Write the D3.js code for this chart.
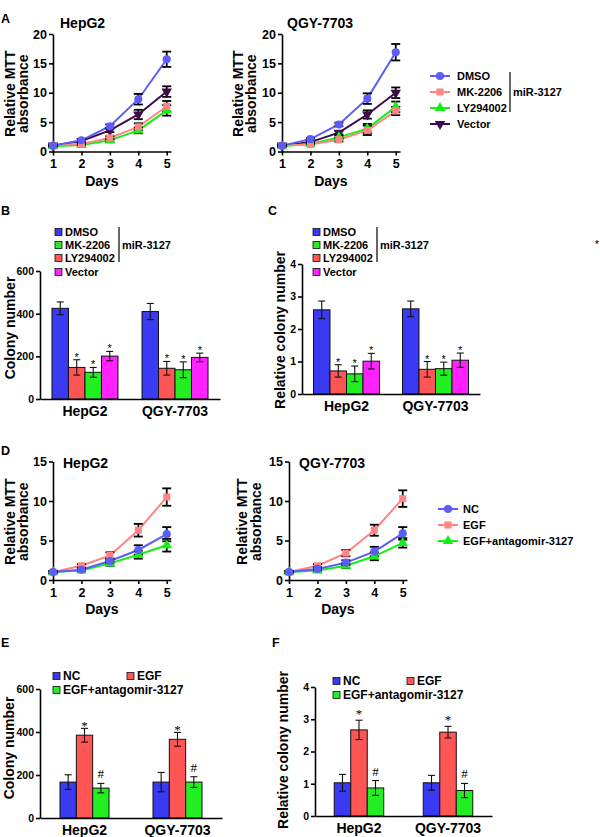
<!DOCTYPE html>
<html>
<head>
<meta charset="utf-8">
<script src="https://cdn.jsdelivr.net/npm/d3@7"></script>
<style>
body { margin: 0; background: #fff; }
</style>
</head>
<body>
<svg id="fig" width="600" height="837"></svg>
<script>
// ---- data ----
var days = [1, 2, 3, 4, 5];
var cellLines = ["HepG2", "QGY-7703"];

var seriesA = ["DMSO", "MK-2206", "LY294002", "Vector"];
var mttA_HepG2 = [
    [1.0, 1.9, 4.3, 8.9, 15.7],
    [1.0, 1.3, 2.3, 4.2, 7.7],
    [0.9, 1.1, 1.9, 3.6, 7.0],
    [1.0, 1.8, 3.6, 6.3, 10.2]
];
var mttA_HepG2Err = [
    [0.15, 0.2, 0.3, 0.9, 1.3],
    [0.15, 0.2, 0.3, 0.6, 0.9],
    [0.15, 0.2, 0.3, 0.5, 0.9],
    [0.15, 0.2, 0.3, 0.8, 0.9]
];
var mttA_QGY = [
    [1.0, 2.1, 4.6, 9.0, 16.9],
    [1.0, 1.2, 2.0, 3.6, 6.9],
    [0.9, 1.3, 2.4, 3.9, 7.6],
    [1.0, 1.6, 3.2, 6.3, 10.0]
];
var mttA_QGYErr = [
    [0.15, 0.2, 0.3, 0.9, 1.4],
    [0.15, 0.2, 0.3, 0.8, 0.7],
    [0.15, 0.2, 0.3, 0.8, 0.9],
    [0.15, 0.2, 0.3, 0.7, 0.9]
];

var seriesD = ["NC", "EGF", "EGF+antagomir-3127"];
var mttD_HepG2 = [
    [1.0, 1.3, 2.4, 3.8, 5.8],
    [1.0, 1.8, 3.1, 6.3, 10.5],
    [1.0, 1.2, 2.1, 3.2, 4.4]
];
var mttD_HepG2Err = [
    [0.15, 0.2, 0.3, 0.6, 0.9],
    [0.15, 0.2, 0.4, 0.8, 1.1],
    [0.15, 0.2, 0.3, 0.5, 0.8]
];
var mttD_QGY = [
    [1.0, 1.4, 2.2, 3.6, 5.9],
    [1.0, 1.8, 3.4, 6.3, 10.3],
    [1.0, 1.2, 1.8, 3.0, 4.7]
];
var mttD_QGYErr = [
    [0.15, 0.2, 0.3, 0.6, 0.8],
    [0.15, 0.2, 0.4, 0.7, 1.05],
    [0.15, 0.2, 0.3, 0.5, 0.6]
];

// colony counts: one row per cell line, one value per series
var colonyB = [[425, 148, 125, 201], [410, 144, 137, 195]];
var colonyBErr = [[30, 36, 23, 22], [38, 32, 37, 20]];
var colonyC = [[2.59, 0.71, 0.62, 1.01], [2.62, 0.76, 0.78, 1.04]];
var colonyCErr = [[0.27, 0.19, 0.24, 0.24], [0.24, 0.24, 0.2, 0.22]];
var colonyE = [[167, 385, 139], [167, 366, 167]];
var colonyEErr = [[34, 32, 22], [45, 32, 25]];
var colonyF = [[1.03, 2.67, 0.87], [1.03, 2.6, 0.79]];
var colonyFErr = [[0.26, 0.3, 0.23], [0.23, 0.18, 0.22]];

var ticksA = [0, 5, 10, 15, 20];
var ticksD = [0, 5, 10, 15];
var ticksCount = [0, 200, 400, 600];
var ticksRel = [0, 1, 2, 3, 4];

// ---- styles ----
var FONT = '"Liberation Sans", Arial, sans-serif';
var SERIF = '"Liberation Serif", "Times New Roman", serif';
var lineColorsA = ["#5c5cf7", "#ff8585", "#11f011", "#3c0a4e"];
var shapesA = ["circle", "square", "triangle", "triangleDown"];
var lineColorsD = ["#5c5cf7", "#ff8585", "#11f011"];
var shapesD = ["circle", "square", "triangle"];
var barColorsB = ["#3a3af2", "#ff5555", "#22ee22", "#ff22ff"];
var legendColorsB = ["#3a3af2", "#22ee22", "#ff5555", "#ff22ff"];
var barColorsE = ["#3a3af2", "#ff5555", "#22ee22"];

var svg = d3.select("#fig");

function styleAxis(g, fs) {
    g.attr("font-family", FONT).attr("font-size", fs).attr("font-weight", "bold");
    g.selectAll(".domain, .tick line").attr("stroke", "#000").attr("stroke-width", 1.6);
    g.selectAll(".tick text").attr("fill", "#000");
}

function addText(x, y, str, o) {
    o = o || {};
    return svg.append("text")
        .attr("x", x).attr("y", y)
        .attr("font-family", o.family || FONT)
        .attr("font-size", o.size || 12)
        .attr("font-weight", o.weight || "bold")
        .attr("text-anchor", o.anchor || "start")
        .attr("dy", o.dy || null)
        .text(str);
}

function vText(x, y, str, size) {
    svg.append("text")
        .attr("transform", "translate(" + x + "," + y + ") rotate(-90)")
        .attr("text-anchor", "middle")
        .attr("font-family", FONT)
        .attr("font-size", size)
        .attr("font-weight", "bold")
        .text(str);
}

var symType = {
    circle: d3.symbolCircle,
    square: d3.symbolSquare,
    triangle: d3.symbolTriangle,
    triangleDown: d3.symbolTriangle
};

function drawSym(g, shape, cx, cy, color) {
    var size = shape === "circle" ? 52 : shape === "square" ? 50 : 48;
    g.append("path")
        .attr("d", d3.symbol().type(symType[shape]).size(size)())
        .attr("transform", "translate(" + cx + "," + cy + ")" + (shape === "triangleDown" ? " rotate(180)" : ""))
        .attr("fill", color);
}

// ---- line panels (MTT) ----
function linePanel(p) {
    var x = d3.scaleLinear().domain([1, 5.15]).range([p.left, p.left + 118]);
    var y = d3.scaleLinear().domain([0, p.yMax]).range([p.bottom, p.top]);
    var g = svg.append("g");

    g.append("g")
        .attr("transform", "translate(0," + p.bottom + ")")
        .call(d3.axisBottom(x).tickValues(days).tickSize(4).tickPadding(4).tickSizeOuter(0).tickFormat(d3.format("d")))
        .call(styleAxis, 12.5);

    g.append("g")
        .attr("transform", "translate(" + p.left + ",0)")
        .call(d3.axisLeft(y).tickValues(p.ticks).tickSize(4).tickPadding(2).tickSizeOuter(0).tickFormat(d3.format("d")))
        .call(styleAxis, 12.5);

    var rows = p.means.map(function (vals, i) {
        return days.map(function (d, j) { return { d: d, m: vals[j], e: p.errs[i][j] }; });
    });

    var line = d3.line().x(function (d) { return x(d.d); }).y(function (d) { return y(d.m); });

    // draw from last to first so the first series sits on top
    for (var i = rows.length - 1; i >= 0; i--) {
        g.append("path").datum(rows[i])
            .attr("fill", "none")
            .attr("stroke", p.colors[i])
            .attr("stroke-width", 2)
            .attr("d", line);
    }
    for (i = rows.length - 1; i >= 0; i--) {
        rows[i].forEach(function (d) {
            var cx = x(d.d), y1 = y(d.m + d.e), y2 = y(d.m - d.e);
            g.append("line").attr("x1", cx).attr("x2", cx).attr("y1", y1).attr("y2", y2)
                .attr("stroke", "#000").attr("stroke-width", 1.8);
            [y1, y2].forEach(function (yy) {
                g.append("line").attr("x1", cx - 4.5).attr("x2", cx + 4.5).attr("y1", yy).attr("y2", yy)
                    .attr("stroke", "#000").attr("stroke-width", 1.8);
            });
        });
    }
    for (i = rows.length - 1; i >= 0; i--) {
        rows[i].forEach(function (d) {
            drawSym(g, p.shapes[i], x(d.d), y(d.m), p.colors[i]);
        });
    }

    addText(p.titleX, p.titleY, p.title, { size: 14 });
    addText(x(3) - 8, p.bottom + 34, "Days", { size: 14, anchor: "middle" });
    vText(p.labX1, (p.top + p.bottom) / 2 + 1, "Relative MTT", 14);
    vText(p.labX2, (p.top + p.bottom) / 2 + 1, "absorbance", 14);
}

function lineLegend(mx, tx, ys, names, colors, shapes) {
    var g = svg.append("g");
    names.forEach(function (n, i) {
        g.append("line").attr("x1", mx - 10).attr("x2", mx + 10).attr("y1", ys[i]).attr("y2", ys[i])
            .attr("stroke", colors[i]).attr("stroke-width", 2);
        drawSym(g, shapes[i], mx, ys[i], colors[i]);
        addText(tx, ys[i], n, { size: 11, dy: "0.36em" });
    });
}

// ---- bar panels (colony formation) ----
function barPanel(p) {
    var x0 = d3.scaleBand().domain(cellLines).range([p.left, p.right])
        .paddingInner(p.pi).paddingOuter(p.po);
    var x1 = d3.scaleBand().domain(p.series).range([0, x0.bandwidth()]);
    var y = d3.scaleLinear().domain([0, p.yMax]).range([p.bottom, p.top]);
    var g = svg.append("g");

    cellLines.forEach(function (cl, ci) {
        p.series.forEach(function (s, si) {
            var m = p.means[ci][si], e = p.errs[ci][si];
            var bx = x0(cl) + x1(s), cx = bx + x1.bandwidth() / 2;
            g.append("rect")
                .attr("x", bx).attr("y", y(m))
                .attr("width", x1.bandwidth()).attr("height", p.bottom - y(m))
                .attr("fill", p.colors[si]).attr("stroke", "#111").attr("stroke-width", 1);
            var yt = y(m + e), yb = y(m - e);
            g.append("line").attr("x1", cx).attr("x2", cx).attr("y1", yt).attr("y2", yb)
                .attr("stroke", "#111").attr("stroke-width", 1.1);
            [yt, yb].forEach(function (yy) {
                g.append("line").attr("x1", cx - 3.5).attr("x2", cx + 3.5).attr("y1", yy).attr("y2", yy)
                    .attr("stroke", "#111").attr("stroke-width", 1.1);
            });
            var mk = p.marks[si];
            if (mk === "*") {
                addText(cx, yt + p.starDy, "*", { size: p.starSize, weight: "normal", anchor: "middle", family: p.markFamily });
            } else if (mk === "#") {
                addText(cx, yt - 5, "#", { size: 13, weight: "normal", anchor: "middle", family: p.markFamily });
            }
        });
    });

    g.append("g")
        .attr("transform", "translate(0," + p.bottom + ")")
        .call(d3.axisBottom(x0).tickSize(0).tickPadding(7).tickSizeOuter(0))
        .call(styleAxis, 14);

    g.append("g")
        .attr("transform", "translate(" + p.left + ",0)")
        .call(d3.axisLeft(y).tickValues(p.ticks).tickSize(4).tickPadding(2).tickSizeOuter(0).tickFormat(d3.format("d")))
        .call(styleAxis, 10.5);

    vText(p.labX, p.labY, p.yTitle, 14);
}

function squareLegend(items) {
    items.forEach(function (it) {
        svg.append("rect").attr("x", it.x).attr("y", it.y - 3.5).attr("width", 7).attr("height", 7)
            .attr("fill", it.color).attr("stroke", "#111").attr("stroke-width", 0.8);
        addText(it.x + 10, it.y, it.name, { size: it.size || 11, dy: "0.36em" });
    });
}

function bracket(x, y1, y2, ty) {
    svg.append("line").attr("x1", x).attr("x2", x).attr("y1", y1).attr("y2", y2)
        .attr("stroke", "#000").attr("stroke-width", 1.2);
    addText(x + 3, ty, "miR-3127", { size: 11, dy: "0.36em" });
}

// ---- panel A ----
addText(1, 23, "A", { size: 12.5 });
linePanel({ left: 53, top: 34, bottom: 151.5, yMax: 20, ticks: ticksA, means: mttA_HepG2, errs: mttA_HepG2Err,
    colors: lineColorsA, shapes: shapesA, title: "HepG2", titleX: 60, titleY: 28, labX1: 15, labX2: 28 });
linePanel({ left: 282, top: 34, bottom: 151.5, yMax: 20, ticks: ticksA, means: mttA_QGY, errs: mttA_QGYErr,
    colors: lineColorsA, shapes: shapesA, title: "QGY-7703", titleX: 287, titleY: 28, labX1: 243, labX2: 256 });
lineLegend(440, 457, [76, 92, 108, 124], seriesA, lineColorsA, shapesA);
bracket(510, 72, 112, 92);

// ---- panel B ----
addText(1, 215, "B", { size: 12.5 });
barPanel({ left: 40, right: 220, pi: 0.267, po: 0.133, top: 271, bottom: 399, yMax: 600, ticks: ticksCount,
    series: seriesA, means: colonyB, errs: colonyBErr, colors: barColorsB, marks: ["", "*", "*", "*"],
    starSize: 11, starDy: 1, markFamily: FONT, yTitle: "Colony number", labX: 15, labY: 328 });
squareLegend(seriesA.map(function (s, i) {
    return { x: 55, y: [232, 245, 258, 272][i], name: s, color: legendColorsB[i] };
}));
bracket(119, 227, 262, 245);

// ---- panel C ----
addText(268, 215, "C", { size: 12.5 });
barPanel({ left: 302, right: 480, pi: 0.258, po: 0.129, top: 264, bottom: 394, yMax: 4, ticks: ticksRel,
    series: seriesA, means: colonyC, errs: colonyCErr, colors: barColorsB, marks: ["", "*", "*", "*"],
    starSize: 11, starDy: 1, markFamily: FONT, yTitle: "Relative colony number", labX: 285, labY: 330 });
squareLegend(seriesA.map(function (s, i) {
    return { x: 313, y: [232, 245, 258, 272][i], name: s, color: legendColorsB[i] };
}));
bracket(377, 227, 262, 245);
addText(597, 248, "*", { size: 11, weight: "normal", anchor: "middle" });

// ---- panel D ----
addText(1, 455, "D", { size: 12.5 });
linePanel({ left: 53, top: 461.5, bottom: 580, yMax: 15, ticks: ticksD, means: mttD_HepG2, errs: mttD_HepG2Err,
    colors: lineColorsD, shapes: shapesD, title: "HepG2", titleX: 63, titleY: 468, labX1: 15, labX2: 28 });
linePanel({ left: 289, top: 461.5, bottom: 580, yMax: 15, ticks: ticksD, means: mttD_QGY, errs: mttD_QGYErr,
    colors: lineColorsD, shapes: shapesD, title: "QGY-7703", titleX: 299, titleY: 468, labX1: 247, labX2: 261 });
lineLegend(448, 463, [509, 525, 541], seriesD, lineColorsD, shapesD);

// ---- panel E ----
addText(1, 647, "E", { size: 12.5 });
barPanel({ left: 40, right: 222, pi: 0.473, po: 0.215, top: 689, bottom: 818, yMax: 600, ticks: ticksCount,
    series: seriesD, means: colonyE, errs: colonyEErr, colors: barColorsE, marks: ["", "*", "#"],
    starSize: 13, starDy: 2, markFamily: SERIF, yTitle: "Colony number", labX: 14, labY: 748 });
squareLegend([
    { x: 53, y: 676, name: seriesD[0], color: barColorsE[0], size: 12 },
    { x: 127, y: 676, name: seriesD[1], color: barColorsE[1], size: 12 },
    { x: 53, y: 690, name: seriesD[2], color: barColorsE[2], size: 12 }
]);

// ---- panel F ----
addText(272, 647, "F", { size: 12.5 });
barPanel({ left: 315, right: 492, pi: 0.444, po: 0.216, top: 687, bottom: 816, yMax: 4, ticks: ticksRel,
    series: seriesD, means: colonyF, errs: colonyFErr, colors: barColorsE, marks: ["", "*", "#"],
    starSize: 13, starDy: -2, markFamily: SERIF, yTitle: "Relative colony number", labX: 288, labY: 750 });
squareLegend([
    { x: 333, y: 681, name: seriesD[0], color: barColorsE[0], size: 12 },
    { x: 407, y: 681, name: seriesD[1], color: barColorsE[1], size: 12 },
    { x: 333, y: 695, name: seriesD[2], color: barColorsE[2], size: 12 }
]);
</script>
</body>
</html>
